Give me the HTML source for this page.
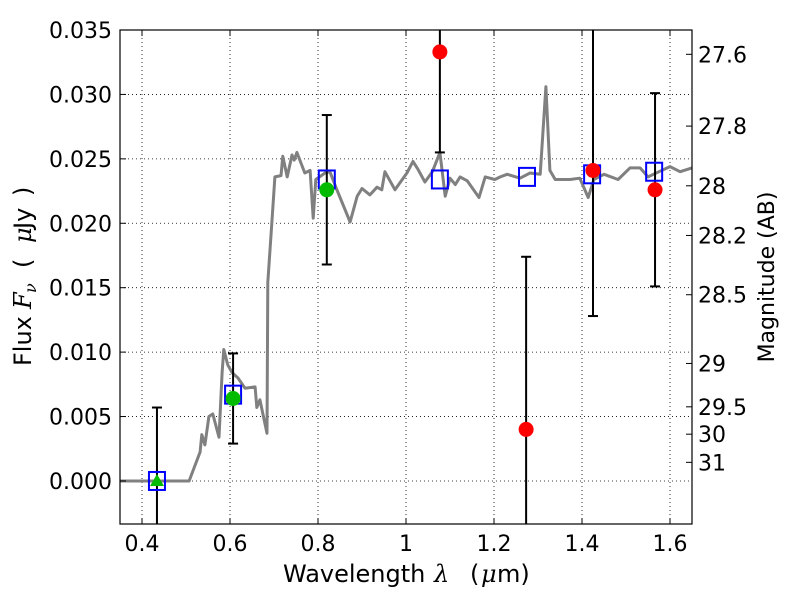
<!DOCTYPE html>
<html><head><meta charset="utf-8"><style>
body{margin:0;background:#fff;}
svg text{font-family:"DejaVu Sans","Liberation Sans",sans-serif;fill:#000;}
svg text.m{font-family:"DejaVu Serif","Liberation Serif",serif;font-style:italic;}
</style></head><body>
<svg id="chart" width="800" height="600" xmlns="http://www.w3.org/2000/svg">
<defs><clipPath id="clip"><rect x="120" y="30" width="572" height="494"/></clipPath></defs>
<rect width="800" height="600" fill="#fff"/>
<g id="grid"></g><g id="marks" clip-path="url(#clip)"></g><g id="axes"></g>
<g font-size="24">
<text x="283" y="582">Wavelength</text>
<text class="m" x="434" y="582">λ</text>
<text x="470" y="582">(</text><text class="m" x="481" y="582">μ</text><text x="497" y="582">m)</text>
</g>
<g font-size="24" transform="translate(31,0) rotate(-90)">
<text x="-366" y="0">Flux</text>
<text class="m" x="-309" y="0">F</text><text class="m" x="-293" y="5" font-size="16">ν</text>
<text x="-268" y="0">(</text>
<text class="m" x="-243" y="0">μ</text><text x="-229" y="0">Jy</text>
<text x="-196" y="0">)</text>
</g>
<text font-size="22" text-anchor="middle" transform="translate(774,277) rotate(-90)">Magnitude (AB)</text>
</svg>
<script>
const specLam=[0.35,0.507,0.532,0.536,0.543,0.552,0.561,0.575,0.582,0.586,0.595,0.605,0.618,0.634,0.657,0.661,0.668,0.684,0.686,0.695,0.702,0.716,0.720,0.730,0.741,0.746,0.752,0.770,0.782,0.789,0.795,0.816,0.827,0.843,0.873,0.889,0.900,0.918,0.934,0.945,0.952,0.975,1.002,1.016,1.027,1.043,1.060,1.077,1.089,1.100,1.112,1.123,1.139,1.166,1.180,1.202,1.214,1.230,1.259,1.282,1.305,1.318,1.327,1.339,1.373,1.395,1.414,1.427,1.450,1.482,1.509,1.532,1.550,1.575,1.600,1.623,1.650];
const specFlux=[0,0,0.00225,0.0036,0.0028,0.0050,0.0052,0.0034,0.0084,0.0102,0.0090,0.0084,0.0080,0.0072,0.0073,0.0057,0.0063,0.0037,0.0154,0.0200,0.0236,0.0237,0.0252,0.0236,0.0253,0.0249,0.0255,0.0239,0.0241,0.0204,0.0234,0.0239,0.0240,0.0226,0.0201,0.0221,0.0227,0.0222,0.0228,0.0226,0.0240,0.0226,0.0239,0.0248,0.0242,0.0232,0.0240,0.0255,0.0221,0.0235,0.0230,0.0236,0.0233,0.0220,0.0236,0.0234,0.0236,0.0238,0.0235,0.0239,0.0238,0.0306,0.0241,0.0234,0.0234,0.0235,0.0220,0.0234,0.0238,0.0234,0.0243,0.0243,0.0236,0.0240,0.0244,0.0240,0.0243];
const modelLam=[0.434,0.607,0.820,1.077,1.275,1.423,1.564];
const modelFlux=[0,0.0067,0.0234,0.0234,0.0236,0.0238,0.0240];
const greenLam=[0.434,0.607,0.820];
const greenFlux=[0.0000,0.0064,0.0226];
const greenErr=[0.0057,0.0035,0.0058];
const redLam=[1.077,1.273,1.425,1.566];
const redFlux=[0.0333,0.0040,0.0241,0.0226];
const redErr=[0.0078,0.0134,0.0113,0.0075];
const xTicks=[0.4,0.6,0.8,1.0,1.2,1.4,1.6];
const xTickLabels=["0.4","0.6","0.8","1","1.2","1.4","1.6"];
const yTicks=[0,0.005,0.01,0.015,0.02,0.025,0.03,0.035];
const yTickLabels=["0.000","0.005","0.010","0.015","0.020","0.025","0.030","0.035"];
const magTicks=[27.6,27.8,28,28.2,28.5,29,29.5,30,31];
const magLabels=["27.6","27.8","28","28.2","28.5","29","29.5","30","31"];

const L=120,R=692,T=30,B=524,X0=0.35,X1=1.65,Y0=-0.00334,Y1=0.035;
const sx=v=>L+(v-X0)/(X1-X0)*(R-L);
const sy=v=>B-(v-Y0)/(Y1-Y0)*(B-T);
const NS="http://www.w3.org/2000/svg";
function mk(tag,attrs,parent){const e=document.createElementNS(NS,tag);for(const k in attrs)e.setAttribute(k,attrs[k]);parent.appendChild(e);return e;}
const grid=document.getElementById('grid'),marks=document.getElementById('marks'),axes=document.getElementById('axes');
const FS=22;
xTicks.forEach((t,i)=>{
 const x=sx(t);
 const g=mk('line',{x1:x,x2:x,y1:T,y2:B,stroke:'#000','stroke-width':0.8,'stroke-dasharray':'1,3'},grid);
 
 mk('line',{x1:x,x2:x,y1:B,y2:B-6,stroke:'#000'},axes);
 mk('line',{x1:x,x2:x,y1:T,y2:T+6,stroke:'#000'},axes);
 const tx=mk('text',{x:x,y:B+27,'text-anchor':'middle','font-size':FS},axes);tx.textContent=xTickLabels[i];
 
});
yTicks.forEach((t,i)=>{
 const y=sy(t);
 const g=mk('line',{x1:L,x2:R,y1:y,y2:y,stroke:'#000','stroke-width':0.8,'stroke-dasharray':'1,3'},grid);
 
 mk('line',{x1:L,x2:L+6,y1:y,y2:y,stroke:'#000'},axes);
 const tx=mk('text',{x:L-8,y:y+8,'text-anchor':'end','font-size':FS},axes);tx.textContent=yTickLabels[i];
 
});
magTicks.forEach((m,i)=>{
 const y=sy(Math.pow(10,(23.9-m)/2.5));
 mk('line',{x1:R,x2:R-6,y1:y,y2:y,stroke:'#000'},axes);
 const tx=mk('text',{x:R+6,y:y+8,'text-anchor':'start','font-size':FS},axes);tx.textContent=magLabels[i];
 
});

let d=specLam.map((l,i)=>(i?'L':'M')+sx(l).toFixed(1)+','+sy(specFlux[i]).toFixed(1)).join(' ');
const sp=mk('path',{d:d,fill:'none',stroke:'#808080','stroke-width':3,'stroke-linejoin':'round'},marks);


function errbar(l,f,e){
 const x=sx(l),y1=sy(f+e),y2=sy(f-e);
 const g=mk('g',{},marks);
 
 mk('line',{x1:x,x2:x,y1:y1,y2:y2,stroke:'#000','stroke-width':2},g);
 mk('line',{x1:x-5,x2:x+5,y1:y1,y2:y1,stroke:'#000','stroke-width':2},g);
 mk('line',{x1:x-5,x2:x+5,y1:y2,y2:y2,stroke:'#000','stroke-width':2},g);
}
greenLam.forEach((l,i)=>errbar(l,greenFlux[i],greenErr[i]));
redLam.forEach((l,i)=>errbar(l,redFlux[i],redErr[i]));
modelLam.forEach((l,i)=>{
 const r=mk('rect',{x:sx(l)-8,y:sy(modelFlux[i])-9,width:16,height:18,fill:'none',stroke:'#0000ff','stroke-width':2},marks);
 
});
greenLam.forEach((l,i)=>{
 const x=sx(l),y=sy(greenFlux[i]);
 let e;
 if(i===0){e=mk('polygon',{points:`${x},${y-7} ${x-7},${y+5} ${x+7},${y+5}`,fill:'#00bb00'},marks);}
 else e=mk('circle',{cx:x,cy:y,r:7.5,fill:'#00bb00'},marks);
 
});
redLam.forEach((l,i)=>{
 const c=mk('circle',{cx:sx(l),cy:sy(redFlux[i]),r:7.5,fill:'#ff0000'},marks);
 
});
const frame=mk('rect',{x:L,y:T,width:R-L,height:B-T,fill:'none',stroke:'#000','stroke-width':1.2},axes);

</script>
</body></html>
